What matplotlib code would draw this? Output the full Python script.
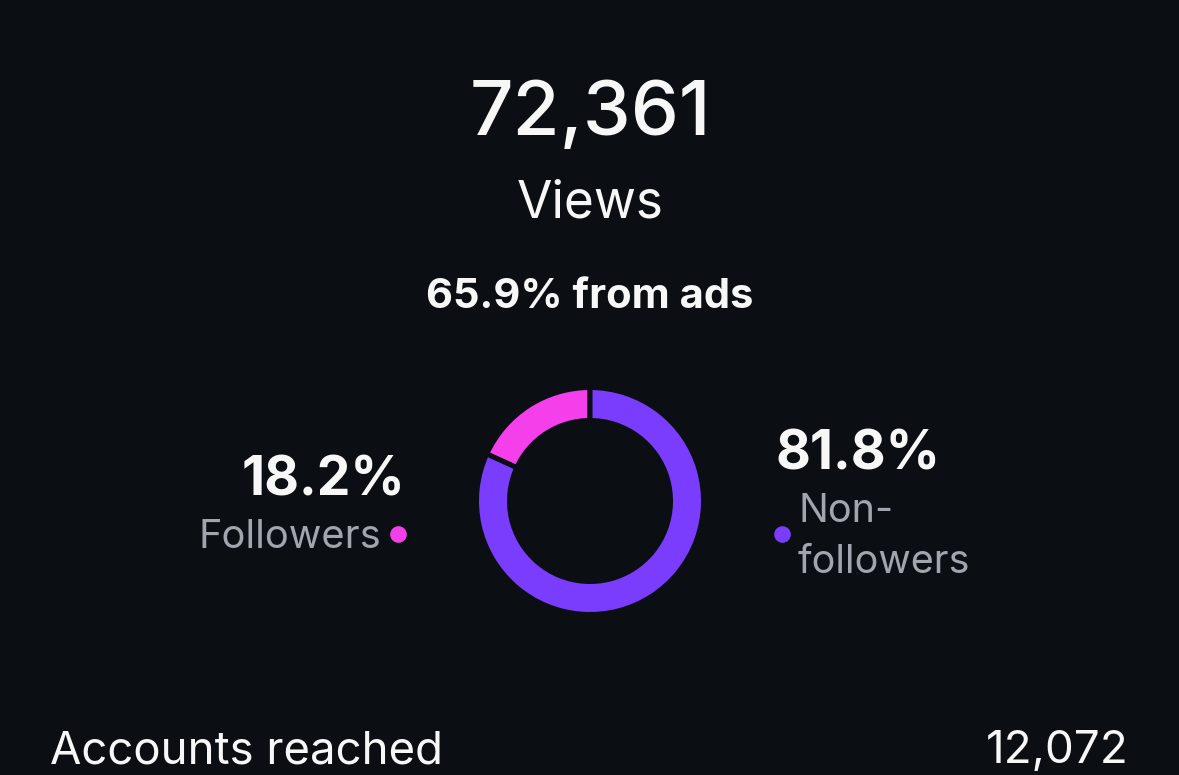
import matplotlib
matplotlib.use("Agg")
import matplotlib.pyplot as plt

# ---- data ----
total_views = "72,361"
views_label = "Views"
ads_label = "65.9% from ads"
segments = ["Followers", "Non-followers"]
shares = [18.2, 81.8]
share_labels = ["18.2%", "81.8%"]
accounts_label = "Accounts reached"
accounts_value = "12,072"

BG = "#0b0e13"
PINK = "#f43fea"
PURPLE = "#7a3cfd"
WHITE = "#f7f7f8"
GRAY = "#a1a6ae"

plt.rcParams['font.family'] = ['Inter', 'DejaVu Sans']

W, H = 1179, 775
fig = plt.figure(figsize=(W / 100, H / 100), dpi=100, facecolor=BG)

# overlay axes in pixel coords (y down)
ax = fig.add_axes([0, 0, 1, 1])
ax.set_xlim(0, W)
ax.set_ylim(H, 0)
ax.axis("off")
ax.set_facecolor(BG)

# donut
cx, cy, R = 590, 501, 111
gap_px = 5
pax = fig.add_axes([(cx - R) / W, (H - cy - R) / H, 2 * R / W, 2 * R / H])
pax.set_facecolor(BG)
r_out = 1 + (gap_px / 2) / R
ring_w = (28 + gap_px) / R
pax.pie(shares, colors=[PINK, PURPLE], startangle=90, counterclock=True,
        radius=r_out,
        wedgeprops=dict(width=ring_w, edgecolor=BG, linewidth=gap_px * 0.72))
pax.set_xlim(-1, 1)
pax.set_ylim(-1, 1)
pax.set_aspect("equal")
pax.axis("off")

# header texts
ax.text(590, 135, total_views, ha="center", va="baseline", color=WHITE,
        fontsize=55, fontweight="medium")
ax.text(590, 218, views_label, ha="center", va="baseline", color=WHITE,
        fontsize=37)
ax.text(590, 308, ads_label, ha="center", va="baseline", color=WHITE,
        fontsize=30, fontweight="bold")

# left label
ax.text(405, 495, share_labels[0], ha="right", va="baseline", color=WHITE,
        fontsize=38.5, fontweight="bold")
ax.text(381, 548, segments[0], ha="right", va="baseline", color=GRAY,
        fontsize=28.7)
ax.plot([398], [534], "o", color=PINK, markersize=12, markeredgewidth=0)

# right label
ax.text(775, 470, share_labels[1], ha="left", va="baseline", color=WHITE,
        fontsize=38.5, fontweight="bold")
ax.plot([782], [534], "o", color=PURPLE, markersize=12, markeredgewidth=0)
ax.text(798, 522, "Non-", ha="left", va="baseline", color=GRAY, fontsize=28.5)
ax.text(798, 573, "followers", ha="left", va="baseline", color=GRAY, fontsize=28.5)

# bottom row
ax.text(50, 763, accounts_label, ha="left", va="baseline", color=WHITE,
        fontsize=32.8)
ax.text(1129, 763, accounts_value, ha="right", va="baseline", color=WHITE,
        fontsize=33)

fig.savefig("out.png", dpi=100, facecolor=BG)
